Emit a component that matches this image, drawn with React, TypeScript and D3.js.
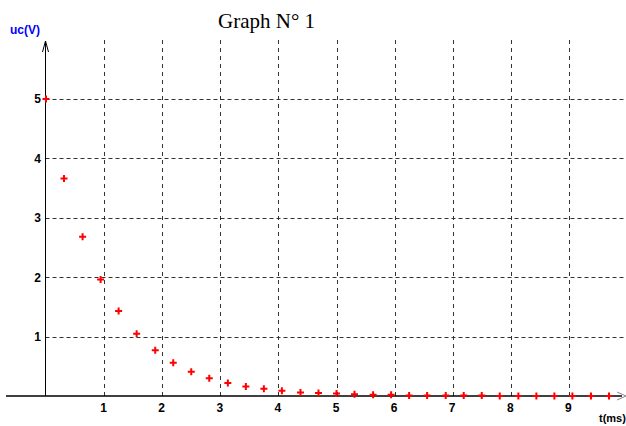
import * as d3 from "d3";
import React, { useEffect, useRef } from "react";

// sample times (ms) and capacitor voltage (V)
const times = [0, 0.31, 0.63, 0.94, 1.25, 1.56, 1.88, 2.19, 2.5, 2.81, 3.13, 3.44, 3.75, 4.06, 4.38, 4.69,
  5.0, 5.31, 5.63, 5.94, 6.25, 6.56, 6.88, 7.19, 7.5, 7.81, 8.13, 8.44, 8.75, 9.06, 9.38, 9.69];
const voltages = [5.0, 3.66, 2.68, 1.96, 1.43, 1.05, 0.77, 0.56, 0.41, 0.3, 0.22, 0.16, 0.12, 0.09, 0.06, 0.05,
  0.04, 0.03, 0.02, 0.02, 0.01, 0.01, 0.01, 0.01, 0.01, 0.0, 0.0, 0.0, 0.0, 0.0, 0.0, 0.0];
const xTicks = [1, 2, 3, 4, 5, 6, 7, 8, 9];
const yTicks = [1, 2, 3, 4, 5];

export default function App() {
  const width = 626;
  const height = 426;
  const svgRef = useRef(null);

  useEffect(() => {
    const svg = d3.select(svgRef.current);
    svg.selectAll("*").remove();

    const x = d3.scaleLinear().domain([0, 10]).range([46, 627]);
    const y = d3.scaleLinear().domain([0, 5]).range([396, 99]);
    const axisX = 45.5;
    const top = 40;
    const right = 626;

    // title
    svg.append("text")
      .attr("x", 218)
      .attr("y", 28)
      .attr("font-family", "Liberation Serif, Times New Roman, serif")
      .attr("font-size", 21)
      .attr("fill", "#000")
      .text("Graph N° 1");

    //grid
    svg.selectAll("line.vgrid")
      .data(xTicks)
      .enter()
      .append("line")
      .attr("x1", d => Math.round(x(d)) + 0.5)
      .attr("x2", d => Math.round(x(d)) + 0.5)
      .attr("y1", top)
      .attr("y2", y(0))
      .attr("stroke", "#333")
      .attr("stroke-dasharray", "4,4");

    svg.selectAll("line.hgrid")
      .data(yTicks)
      .enter()
      .append("line")
      .attr("x1", axisX)
      .attr("x2", right)
      .attr("y1", d => Math.round(y(d)) + 0.5)
      .attr("y2", d => Math.round(y(d)) + 0.5)
      .attr("stroke", "#333")
      .attr("stroke-dasharray", "4,3");

    // axes
    svg.append("line")
      .attr("x1", axisX).attr("x2", axisX)
      .attr("y1", top + 1).attr("y2", y(0))
      .attr("stroke", "#000").attr("stroke-width", 1);
    svg.append("path")
      .attr("d", `M${axisX - 3},${top + 12}L${axisX},${top + 1}L${axisX + 3},${top + 12}`)
      .attr("fill", "none").attr("stroke", "#000");

    svg.append("line")
      .attr("x1", 6).attr("x2", 622)
      .attr("y1", y(0)).attr("y2", y(0))
      .attr("stroke", "#000").attr("stroke-width", 1.6);
    svg.append("path")
      .attr("d", `M${617},${y(0) - 4}L${626},${y(0)}L${617},${y(0) + 4}`)
      .attr("fill", "none").attr("stroke", "#888");

    // tick labels
    const labelFont = "Liberation Sans, Arial, sans-serif";
    svg.selectAll("text.ylab")
      .data(yTicks)
      .enter()
      .append("text")
      .attr("x", 41)
      .attr("y", d => y(d))
      .attr("dy", "0.36em")
      .attr("text-anchor", "end")
      .attr("font-family", labelFont)
      .attr("font-weight", "bold")
      .attr("font-size", 12)
      .text(d => d);

    svg.selectAll("text.xlab")
      .data(xTicks)
      .enter()
      .append("text")
      .attr("x", d => x(d) - 0.5)
      .attr("y", 412)
      .attr("text-anchor", "middle")
      .attr("font-family", labelFont)
      .attr("font-weight", "bold")
      .attr("font-size", 12)
      .text(d => d);

    svg.append("text")
      .attr("x", 10).attr("y", 34)
      .attr("font-family", labelFont)
      .attr("font-weight", "bold")
      .attr("font-size", 12)
      .attr("fill", "#0000ff")
      .text("uc(V)");

    svg.append("text")
      .attr("x", 599).attr("y", 422)
      .attr("font-family", labelFont)
      .attr("font-weight", "bold")
      .attr("font-size", 11)
      .attr("fill", "#000")
      .text("t(ms)");

    // points
    const pts = times.map((t, i) => ({ t, v: voltages[i] }));
    svg.selectAll("path.pt")
      .data(pts)
      .enter()
      .append("path")
      .attr("d", d => {
        const cx = x(d.t), cy = y(d.v);
        return `M${cx - 3.5},${cy}H${cx + 3.5}M${cx},${cy - 3.5}V${cy + 3.5}`;
      })
      .attr("stroke", "#ff0000")
      .attr("stroke-width", 2)
      .attr("fill", "none");
  }, []);

  return (
    <svg ref={svgRef}
      width={width}
      height={height}
      style={{ position: "absolute", left: 0, top: 0, background: "#fff" }}>
    </svg>
  );
}
